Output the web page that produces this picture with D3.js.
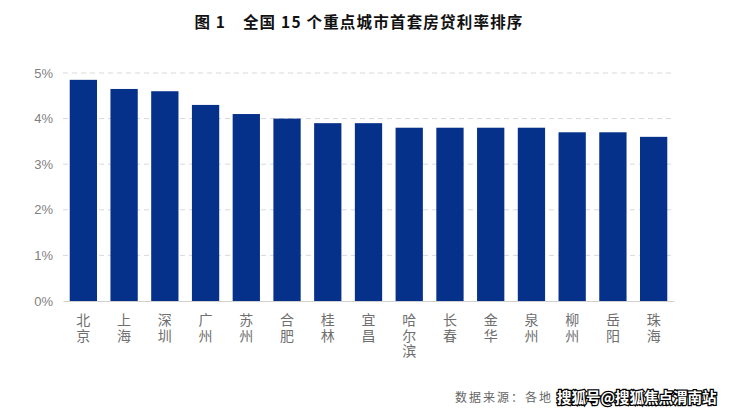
<!DOCTYPE html>
<html>
<head>
<meta charset="utf-8">
<script src="https://cdn.jsdelivr.net/npm/d3@7"></script>
<style>
body { margin: 0; background: #fff; }
svg { display: block; }
</style>
</head>
<body>
<svg id="chart" width="740" height="417"></svg>
<script>
// 城市与首套房贷利率(%)
var cities = ["北京", "上海", "深圳", "广州", "苏州", "合肥", "桂林", "宜昌", "哈尔滨", "长春", "金华", "泉州", "柳州", "岳阳", "珠海"];
var rates = [4.85, 4.65, 4.6, 4.3, 4.1, 4.0, 3.9, 3.9, 3.8, 3.8, 3.8, 3.8, 3.7, 3.7, 3.6];
var yTicks = [0, 1, 2, 3, 4, 5];

var svg = d3.select("#chart");
var cjk = "'Noto Sans CJK SC', 'Noto Sans', sans-serif";

var x = d3.scaleBand().domain(cities).range([63, 674]).paddingInner(0.33).paddingOuter(0.165);
var y = d3.scaleLinear().domain([0, 5]).range([301, 73]);

// 标题
svg.append("text")
    .attr("x", 359).attr("y", 28)
    .attr("text-anchor", "middle")
    .attr("font-family", cjk)
    .attr("font-weight", "bold")
    .attr("font-size", 15.5)
    .attr("letter-spacing", 1.2)
    .attr("fill", "#111")
    .text("图 1　全国 15 个重点城市首套房贷利率排序");

// 网格线
svg.append("g").selectAll("line")
    .data(yTicks.filter(function(d) { return d > 0; }))
    .enter().append("line")
    .attr("x1", 63).attr("x2", 674)
    .attr("y1", function(d) { return y(d); })
    .attr("y2", function(d) { return y(d); })
    .attr("stroke", "#d9d9d9")
    .attr("stroke-dasharray", "5,4");

// y轴
var yAxis = d3.axisLeft(y).tickValues(yTicks).tickSize(0).tickPadding(10)
    .tickFormat(function(d) { return d + "%"; });
var gy = svg.append("g").attr("transform", "translate(63,0)").call(yAxis);
gy.select(".domain").remove();
gy.selectAll("text")
    .attr("font-family", "'Liberation Sans', Arial, sans-serif")
    .attr("font-size", 13)
    .attr("fill", "#7f7f7f");

// 柱子
svg.append("g").selectAll("rect")
    .data(rates)
    .enter().append("rect")
    .attr("x", function(d, i) { return x(cities[i]); })
    .attr("y", function(d) { return y(d); })
    .attr("width", x.bandwidth())
    .attr("height", function(d) { return y(0) - y(d); })
    .attr("fill", "#06318a");

// x轴
var gx = svg.append("g").attr("transform", "translate(0,301)")
    .call(d3.axisBottom(x).tickSize(0).tickFormat(""));
gx.select(".domain").attr("stroke", "#d0d0d0");

// 竖排城市名
var lbl = svg.append("g").selectAll("text")
    .data(cities)
    .enter().append("text")
    .attr("x", function(d) { return x(d) + x.bandwidth() / 2; })
    .attr("text-anchor", "middle")
    .attr("font-family", cjk)
    .attr("font-size", 14)
    .attr("fill", "#6f6f6f");
lbl.each(function(d) {
    var t = d3.select(this);
    d.split("").forEach(function(ch, k) {
        t.append("tspan")
            .attr("x", x(d) + x.bandwidth() / 2)
            .attr("y", 325 + k * 15.5)
            .text(ch);
    });
});

// 数据来源
svg.append("text")
    .attr("x", 455).attr("y", 402)
    .attr("font-family", cjk)
    .attr("font-size", 12)
    .attr("letter-spacing", 2)
    .attr("fill", "#666")
    .text("数据来源：各地");

// 水印
svg.append("text")
    .attr("x", 557).attr("y", 403)
    .attr("font-family", cjk)
    .attr("font-weight", "bold")
    .attr("font-size", 14.5)
    .attr("fill", "#fff")
    .attr("stroke", "#000")
    .attr("stroke-width", 2.5)
    .attr("paint-order", "stroke")
    .text("搜狐号@搜狐焦点渭南站");
</script>
</body>
</html>
